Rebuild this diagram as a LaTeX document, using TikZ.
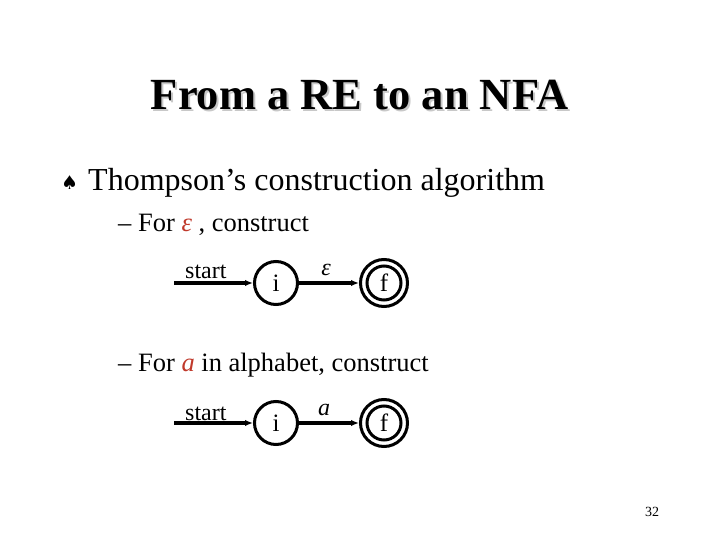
\documentclass[tikz,border=0pt]{standalone}
\usepackage{fontspec}
\setmainfont{Liberation Serif}
\newfontfamily\symfont{DejaVu Sans}
\usetikzlibrary{arrows.meta}
\definecolor{redtxt}{RGB}{192,57,43}
\definecolor{shadowgray}{RGB}{200,200,200}
\begin{document}
\begin{tikzpicture}[x=1pt,y=-1pt,
  txt/.style={inner sep=0pt,anchor=base west},
  state/.style={circle,draw,line width=3pt,minimum size=43pt,inner sep=0pt,font=\fontsize{25}{25}\selectfont},
  accept/.style={state,minimum size=47pt},
  edge/.style={line width=3.2pt,-{Latex[length=8pt,width=6.5pt]}},
  lbl/.style={inner sep=0pt,anchor=base,font=\fontsize{24}{24}\selectfont}]
\fill[white] (0,0) rectangle (720,540);
\useasboundingbox (0,0) rectangle (720,540);
% title
\node[inner sep=0pt,anchor=base,text=shadowgray,font=\fontsize{44.5}{48}\selectfont\bfseries] (titleshadow) at (361.5,112) {From a RE to an NFA};
\node[inner sep=0pt,anchor=base,font=\fontsize{44.5}{48}\selectfont\bfseries] (title) at (359.5,110) {From a RE to an NFA};
% bullet
\node[txt,font=\fontsize{19}{19}\symfont] (spade) at (61,190) {♠};
\node[txt,font=\fontsize{32}{34}\selectfont] (b1) at (88,191) {Thompson’s construction algorithm};
\node[txt,font=\fontsize{26.5}{28}\selectfont] (s1) at (118,231) {– For \textcolor{redtxt}{\textit{ε}} , construct};
\node[txt,font=\fontsize{26.5}{28}\selectfont] (s2) at (118,371) {– For \textcolor{redtxt}{\textit{a}} in alphabet, construct};
% diagram 1
\coordinate (st1) at (174,283);
\node[txt,font=\fontsize{24}{24}\selectfont] (start1) at (185,278) {start};
\node[state] (i1) at (276,283) {i};
\node[accept] (f1) at (384,283) {f};
\draw[line width=3pt] (f1.center) circle[radius=17pt];
\draw[edge] (st1) -- (i1);
\draw[edge] (i1) -- (f1);
\node[lbl] (e1) at (326,275) {\textit{ε}};
% diagram 2
\coordinate (st2) at (174,423);
\node[txt,font=\fontsize{24}{24}\selectfont] (start2) at (185,420) {start};
\node[state] (i2) at (276,423) {i};
\node[accept] (f2) at (384,423) {f};
\draw[line width=3pt] (f2.center) circle[radius=17pt];
\draw[edge] (st2) -- (i2);
\draw[edge] (i2) -- (f2);
\node[lbl] (a2) at (324,415) {\textit{a}};
% page number
\node[inner sep=0pt,anchor=base,font=\fontsize{14}{14}\selectfont] (pg) at (652,516) {32};
\end{tikzpicture}
\end{document}
